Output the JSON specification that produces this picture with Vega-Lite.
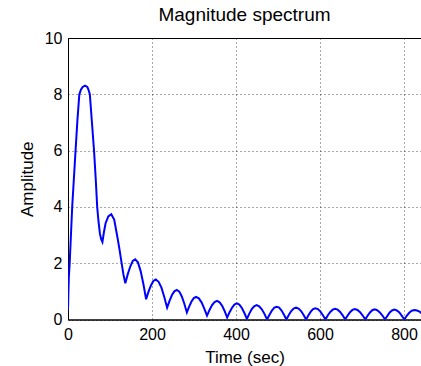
{
  "$schema": "https://vega.github.io/schema/vega-lite/v6.json",
  "autosize": "none",
  "width": 353,
  "height": 281.5,
  "padding": {"left": 68, "top": 38, "right": 0, "bottom": 46.5},
  "background": "white",
  "title": {"text": "Magnitude spectrum", "fontSize": 19, "fontWeight": "normal", "font": "Liberation Sans", "color": "black", "offset": 5},
  "config": {
    "font": "Liberation Sans",
    "view": {"stroke": "black", "strokeWidth": 1},
    "axis": {
      "domainColor": "black",
      "domainWidth": 1,
      "grid": true,
      "gridColor": "black",
      "gridDash": [1, 3],
      "gridOpacity": 0.7,
      "gridWidth": 1,
      "ticks": false,
      "labelFontSize": 16,
      "labelColor": "black",
      "labelFont": "Liberation Sans",
      "titleFontSize": 17,
      "titleFontWeight": "normal",
      "titleColor": "black",
      "titleFont": "Liberation Sans"
    }
  },
  "data": {"values": [
    {"t": 0, "a": 0.34}, {"t": 1, "a": 1.0}, {"t": 2, "a": 1.5}, {"t": 4, "a": 2.0}, {"t": 7, "a": 3.0},
    {"t": 10, "a": 4.0}, {"t": 14, "a": 5.0}, {"t": 18, "a": 6.0}, {"t": 22.5, "a": 7.1}, {"t": 27, "a": 8.0},
    {"t": 31, "a": 8.17}, {"t": 35, "a": 8.26}, {"t": 40.5, "a": 8.31}, {"t": 46, "a": 8.26}, {"t": 49, "a": 8.15},
    {"t": 52, "a": 8.0}, {"t": 57, "a": 7.0}, {"t": 62, "a": 6.0}, {"t": 66, "a": 5.0}, {"t": 69.5, "a": 4.0},
    {"t": 72.5, "a": 3.5}, {"t": 76, "a": 3.05}, {"t": 79, "a": 2.85}, {"t": 82, "a": 2.75},
    {"t": 85.5, "a": 3.1}, {"t": 89.5, "a": 3.42}, {"t": 96, "a": 3.66}, {"t": 103, "a": 3.74},
    {"t": 110, "a": 3.55}, {"t": 117.5, "a": 2.94}, {"t": 122.5, "a": 2.5}, {"t": 127.7, "a": 2.0},
    {"t": 132, "a": 1.6}, {"t": 136.5, "a": 1.29},
    {"t": 142.5, "a": 1.62}, {"t": 148.5, "a": 1.89}, {"t": 154.25, "a": 2.08}, {"t": 160, "a": 2.14},
    {"t": 166.5, "a": 2.03}, {"t": 173, "a": 1.72}, {"t": 179.5, "a": 1.26}, {"t": 186, "a": 0.72},
    {"t": 191.75, "a": 0.99}, {"t": 197.5, "a": 1.21}, {"t": 203.25, "a": 1.37}, {"t": 209, "a": 1.42},
    {"t": 215.75, "a": 1.34}, {"t": 222.5, "a": 1.13}, {"t": 229.25, "a": 0.8}, {"t": 236, "a": 0.42},
    {"t": 241.75, "a": 0.66}, {"t": 247.5, "a": 0.87}, {"t": 253.25, "a": 1.0}, {"t": 259, "a": 1.05},
    {"t": 265, "a": 0.99}, {"t": 271, "a": 0.82}, {"t": 277, "a": 0.56}, {"t": 283, "a": 0.25},
    {"t": 288.5, "a": 0.46}, {"t": 294, "a": 0.64}, {"t": 299.5, "a": 0.76}, {"t": 305, "a": 0.8},
    {"t": 311.5, "a": 0.75}, {"t": 318, "a": 0.61}, {"t": 324.5, "a": 0.39}, {"t": 331, "a": 0.14},
    {"t": 337, "a": 0.34}, {"t": 343, "a": 0.51}, {"t": 349, "a": 0.62}, {"t": 355, "a": 0.66},
    {"t": 361, "a": 0.61}, {"t": 367, "a": 0.49}, {"t": 373, "a": 0.3}, {"t": 379, "a": 0.07},
    {"t": 384.75, "a": 0.26}, {"t": 390.5, "a": 0.42}, {"t": 396.25, "a": 0.53}, {"t": 402, "a": 0.57},
    {"t": 408, "a": 0.53}, {"t": 414, "a": 0.41}, {"t": 420, "a": 0.23}, {"t": 426, "a": 0.02},
    {"t": 431.75, "a": 0.21}, {"t": 437.5, "a": 0.37}, {"t": 443.25, "a": 0.47}, {"t": 449, "a": 0.51},
    {"t": 455.25, "a": 0.47}, {"t": 461.5, "a": 0.36}, {"t": 467.75, "a": 0.2}, {"t": 474, "a": 0.0},
    {"t": 479.75, "a": 0.17}, {"t": 485.5, "a": 0.32}, {"t": 491.25, "a": 0.42}, {"t": 497, "a": 0.45},
    {"t": 502.75, "a": 0.42}, {"t": 508.5, "a": 0.32}, {"t": 514.25, "a": 0.17}, {"t": 520, "a": 0.0},
    {"t": 525.75, "a": 0.16}, {"t": 531.5, "a": 0.3}, {"t": 537.25, "a": 0.39}, {"t": 543, "a": 0.42},
    {"t": 549, "a": 0.39}, {"t": 555, "a": 0.3}, {"t": 561, "a": 0.16}, {"t": 567, "a": 0.0},
    {"t": 572.5, "a": 0.15}, {"t": 578, "a": 0.28}, {"t": 583.5, "a": 0.37}, {"t": 589, "a": 0.4},
    {"t": 595, "a": 0.37}, {"t": 601, "a": 0.28}, {"t": 607, "a": 0.15}, {"t": 613, "a": 0.0},
    {"t": 618.75, "a": 0.15}, {"t": 624.5, "a": 0.27}, {"t": 630.25, "a": 0.35}, {"t": 636, "a": 0.38},
    {"t": 642, "a": 0.35}, {"t": 648, "a": 0.27}, {"t": 654, "a": 0.15}, {"t": 660, "a": 0.0},
    {"t": 665.75, "a": 0.14}, {"t": 671.5, "a": 0.26}, {"t": 677.25, "a": 0.34}, {"t": 683, "a": 0.37},
    {"t": 689.25, "a": 0.34}, {"t": 695.5, "a": 0.26}, {"t": 701.75, "a": 0.14}, {"t": 708, "a": 0.0},
    {"t": 713.5, "a": 0.14}, {"t": 719, "a": 0.25}, {"t": 724.5, "a": 0.33}, {"t": 730, "a": 0.36},
    {"t": 736.25, "a": 0.33}, {"t": 742.5, "a": 0.25}, {"t": 748.75, "a": 0.14}, {"t": 755, "a": 0.0},
    {"t": 760.5, "a": 0.13}, {"t": 766, "a": 0.25}, {"t": 771.5, "a": 0.32}, {"t": 777, "a": 0.35},
    {"t": 783, "a": 0.32}, {"t": 789, "a": 0.25}, {"t": 795, "a": 0.13}, {"t": 801, "a": 0.0},
    {"t": 806.5, "a": 0.13}, {"t": 812.5, "a": 0.24}, {"t": 818.5, "a": 0.31}, {"t": 825, "a": 0.34},
    {"t": 831, "a": 0.32}, {"t": 837, "a": 0.28}, {"t": 843, "a": 0.2}
  ]},
  "mark": {"type": "line", "color": "#0000ff", "strokeWidth": 2, "clip": true},
  "encoding": {
    "x": {"field": "t", "type": "quantitative", "scale": {"domain": [0, 840.5], "nice": false, "zero": false},
      "axis": {"title": "Time (sec)", "values": [0, 200, 400, 600, 800], "labelPadding": 7, "titlePadding": 7, "labelFlush": false}},
    "y": {"field": "a", "type": "quantitative", "scale": {"domain": [0, 10], "nice": false},
      "axis": {"title": "Amplitude", "values": [0, 2, 4, 6, 8, 10], "labelPadding": 6, "titlePadding": 8}}
  }
}
